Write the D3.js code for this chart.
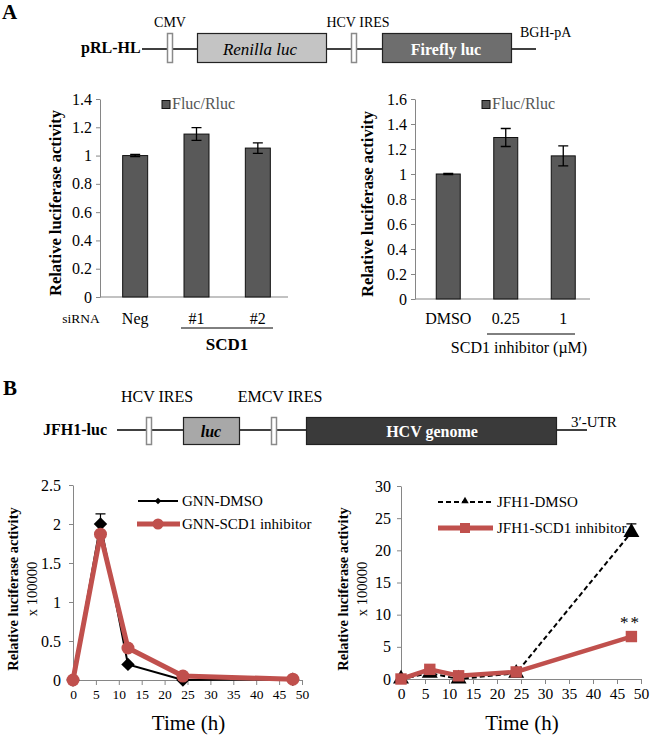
<!DOCTYPE html>
<html><head><meta charset="utf-8">
<script src="https://cdn.jsdelivr.net/npm/d3@7"></script>
<style>body{margin:0;background:#fff}svg{display:block}svg text{font-family:"Liberation Serif","Times New Roman",serif !important}</style>
</head><body><svg id="c" width="650" height="737"></svg>
<script>
// ---------- DATA ----------
const siRNACategories = ["Neg", "#1", "#2"];
const siRNAValues = [1.0, 1.152, 1.053];
const siRNAErrors = [0.008, 0.045, 0.037];
const siRNATicks = [0, 0.2, 0.4, 0.6, 0.8, 1, 1.2, 1.4];

const inhibitorCategories = ["DMSO", "0.25", "1"];
const inhibitorValues = [1.0, 1.292, 1.145];
const inhibitorErrors = [0.004, 0.072, 0.08];
const inhibitorTicks = [0, 0.2, 0.4, 0.6, 0.8, 1, 1.2, 1.4, 1.6];

const timePoints = [0, 6, 12, 24, 48];
const timeTicks = [0, 5, 10, 15, 20, 25, 30, 35, 40, 45, 50];
const gnnDMSO = [0, 2.0, 0.2, 0.0, 0.01];
const gnnDMSOErr = [0, 0.13, 0, 0, 0];
const gnnSCD1 = [0, 1.87, 0.41, 0.05, 0.01];
const gnnTicks = [0, 0.5, 1, 1.5, 2, 2.5];
const jfh1DMSO = [0, 0.9, 0, 0.9, 22.8];
const jfh1DMSOErr = [0, 0, 0, 0, 1.3];
const jfh1SCD1 = [0, 1.5, 0.5, 1.1, 6.6];
const jfhTicks = [0, 5, 10, 15, 20, 25, 30];

const SERIF = '"Liberation Serif","Times New Roman",serif';
const AXIS = "#868686", BAR = "#595959", RED = "#c0504d";
const svg = d3.select("#c");
svg.append("rect").attr("width", 650).attr("height", 737).attr("fill", "#fff");

function txt(x, y, s, o = {}) {
  const t = svg.append("text").attr("x", x).attr("y", y).text(s)
    .attr("font-family", SERIF).attr("font-size", o.size || 15)
    .attr("fill", o.fill || "#000").attr("text-anchor", o.anchor || "start")
    .attr("dominant-baseline", o.base || "auto");
  if (o.bold) t.attr("font-weight", "bold");
  if (o.italic) t.attr("font-style", "italic");
  if (o.rotate) t.attr("transform", `rotate(-90,${x},${y})`);
  if (o.ls) t.attr("letter-spacing", o.ls);
  return t;
}
function styleAxis(g, size) {
  g.attr("font-family", SERIF);
  g.select(".domain").attr("stroke", AXIS).attr("stroke-width", 1);
  g.selectAll(".tick line").attr("stroke", AXIS);
  g.selectAll("text").attr("font-family", SERIF).attr("font-size", size).attr("fill", "#000");
}

// ---------- DIAGRAMS ----------
function box(x, y, w, h, fill, stroke, sw) {
  svg.append("rect").attr("x", x).attr("y", y).attr("width", w).attr("height", h)
    .attr("fill", fill).attr("stroke", stroke).attr("stroke-width", sw);
}
function hline(x1, x2, y, c = "#000", w = 1.5) {
  svg.append("line").attr("x1", x1).attr("x2", x2).attr("y1", y).attr("y2", y)
    .attr("stroke", c).attr("stroke-width", w);
}
// A diagram
txt(2, 19, "A", { size: 21, bold: true });
txt(81, 53, "pRL-HL", { size: 16, bold: true });
hline(142, 536, 49);
box(167.5, 33.5, 5, 29, "#fff", "#8a8a8a", 1.5);
box(197.5, 33.5, 129, 29, "#c4c4c4", "#222", 1.2);
box(351.5, 33.5, 5, 29, "#fff", "#8a8a8a", 1.5);
box(382.5, 33.5, 129, 29, "#6e6e6e", "#222", 1.2);
txt(170, 27, "CMV", { size: 14, anchor: "middle" });
txt(358, 27, "HCV IRES", { size: 14, anchor: "middle" });
txt(520, 37, "BGH-pA", { size: 14 });
txt(260, 49, "Renilla luc", { size: 17, italic: true, anchor: "middle", base: "central" });
txt(446, 49, "Firefly luc", { size: 16, bold: true, anchor: "middle", base: "central", fill: "#fff" });

// B diagram
txt(3, 395, "B", { size: 21, bold: true });
txt(43, 435, "JFH1-luc", { size: 16, bold: true });
hline(117, 587, 430);
box(146.5, 417.5, 5, 27, "#fff", "#8a8a8a", 1.5);
box(183.5, 417.5, 56, 27, "#a8a8a8", "#222", 1.2);
box(271.5, 417.5, 5, 27, "#fff", "#8a8a8a", 1.5);
box(306.5, 417.5, 250, 27, "#3a3a3a", "#222", 1.2);
txt(157, 402, "HCV IRES", { size: 16, anchor: "middle" });
txt(280, 402, "EMCV IRES", { size: 16, anchor: "middle" });
txt(571, 427, "3\u2032-UTR", { size: 15 });
txt(211, 431, "luc", { size: 16, italic: true, bold: true, anchor: "middle", base: "central" });
txt(432, 431, "HCV genome", { size: 16, bold: true, anchor: "middle", base: "central", fill: "#fff" });

// ---------- BAR CHARTS ----------
function barChart(cfg) {
  const x = d3.scalePoint().domain(cfg.cats).range(cfg.xr).padding(0.5);
  const y = d3.scaleLinear().domain([0, cfg.ymax]).range(cfg.yr);
  const g = svg.append("g");
  const ax = g.append("g").attr("transform", `translate(${cfg.axisX},0)`)
    .call(d3.axisLeft(y).tickValues(cfg.ticks).tickSize(4).tickSizeOuter(0).tickPadding(4).tickFormat(d => d));
  styleAxis(ax, 16);
  g.append("line").attr("x1", cfg.axisX).attr("x2", cfg.xEnd).attr("y1", y(0)).attr("y2", y(0))
    .attr("stroke", AXIS).attr("stroke-width", 1.2);
  const bw = cfg.bw;
  g.selectAll(".bar").data(cfg.vals).join("rect")
    .attr("x", (d, i) => x(cfg.cats[i]) - bw / 2 + 0.5).attr("width", bw)
    .attr("y", d => y(d)).attr("height", d => y(0) - y(d))
    .attr("fill", BAR).attr("stroke", "#111").attr("stroke-width", 1);
  cfg.vals.forEach((v, i) => {
    const cx = x(cfg.cats[i]) + 0.5, e = cfg.errs[i];
    const p = d3.path();
    p.moveTo(cx, y(v - e)); p.lineTo(cx, y(v + e));
    p.moveTo(cx - 5, y(v + e)); p.lineTo(cx + 5, y(v + e));
    p.moveTo(cx - 5, y(v - e)); p.lineTo(cx + 5, y(v - e));
    g.append("path").attr("d", p.toString()).attr("stroke", "#000").attr("stroke-width", 1.3).attr("fill", "none");
    txt(cx, 318, cfg.cats[i], { size: 16, anchor: "middle", base: "central" });
  });
  // legend
  g.append("rect").attr("x", cfg.legX).attr("y", 100.5).attr("width", 8).attr("height", 8)
    .attr("fill", BAR).attr("stroke", "#111");
  txt(cfg.legX + 10, 109, "Fluc/Rluc", { size: 16, fill: "#555" });
  txt(cfg.ylabX, cfg.ylabY, "Relative luciferase activity", { size: 16.5, bold: true, anchor: "middle", base: "central", rotate: true });
  return x;
}
barChart({ cats: siRNACategories, vals: siRNAValues, errs: siRNAErrors, ticks: siRNATicks,
  ymax: 1.4, xr: [104, 288], yr: [297, 99], axisX: 100, xEnd: 288, bw: 25, legX: 162, ylabX: 55, ylabY: 203 });
txt(81, 318, "siRNA", { size: 13.5, anchor: "middle", base: "central" });
hline(181, 273, 328, "#000", 1);
txt(227, 344, "SCD1", { size: 17, bold: true, anchor: "middle", base: "central" });

barChart({ cats: inhibitorCategories, vals: inhibitorValues, errs: inhibitorErrors, ticks: inhibitorTicks,
  ymax: 1.6, xr: [419, 591.5], yr: [299, 99], axisX: 415, xEnd: 590, bw: 24, legX: 482, ylabX: 367, ylabY: 204 });
hline(487, 575, 334, "#000", 1);
txt(519, 347, "SCD1 inhibitor (\u00b5M)", { size: 16, anchor: "middle", base: "central" });

// ---------- LINE CHARTS ----------
function lineAxes(cfg) {
  const x = d3.scaleLinear().domain([0, 50]).range(cfg.xr);
  const y = d3.scaleLinear().domain([0, cfg.ymax]).range(cfg.yr);
  const ay = svg.append("g").attr("transform", `translate(${x(0)},0)`)
    .call(d3.axisLeft(y).tickValues(cfg.yticks).tickSize(4).tickSizeOuter(0).tickPadding(cfg.ypad).tickFormat(d => d));
  styleAxis(ay, 16);
  const axx = svg.append("g").attr("transform", `translate(0,${y(0)})`)
    .call(d3.axisBottom(x).tickValues(timeTicks).tickSize(5).tickSizeOuter(0).tickPadding(4).tickFormat(d => d));
  styleAxis(axx, cfg.xsize);
  txt(cfg.ylabX, 589, "Relative luciferase activity", { size: 14.5, bold: true, anchor: "middle", base: "central", rotate: true });
  txt(cfg.ylabX + 19, 589, "x 100000", { size: 14.5, anchor: "middle", base: "central", rotate: true });
  txt((cfg.xr[0] + cfg.xr[1]) / 2 + 1, 723, "Time (h)", { size: 21, anchor: "middle", base: "central" });
  return { x, y };
}
const diamond = d3.symbol().type(d3.symbolSquare);
// Left B
{
  const { x, y } = lineAxes({ xr: [73, 302], yr: [680, 485], ymax: 2.5, yticks: gnnTicks, ypad: 8, xsize: 13.5, ylabX: 13 });
  const line = d3.line().x((d, i) => x(timePoints[i])).y(d => y(d));
  gnnDMSO.forEach((v, i) => {
    if (gnnDMSOErr[i] > 0) {
      const cx = x(timePoints[i]);
      svg.append("path").attr("d", `M${cx},${y(v)}V${y(v + gnnDMSOErr[i])}M${cx - 5},${y(v + gnnDMSOErr[i])}H${cx + 5}`)
        .attr("stroke", "#000").attr("stroke-width", 1.2).attr("fill", "none");
    }
  });
  svg.append("path").datum(gnnDMSO).attr("d", line).attr("fill", "none").attr("stroke", "#000").attr("stroke-width", 2);
  svg.selectAll(".dm").data(gnnDMSO).join("path")
    .attr("d", diamond.size(90)).attr("transform", (d, i) => `translate(${x(timePoints[i])},${y(d)}) rotate(45)`).attr("fill", "#000");
  svg.append("path").datum(gnnSCD1).attr("d", line).attr("fill", "none").attr("stroke", RED).attr("stroke-width", 5).attr("stroke-linejoin", "round");
  svg.selectAll(".rc").data(gnnSCD1).join("circle")
    .attr("cx", (d, i) => x(timePoints[i])).attr("cy", d => y(d)).attr("r", 6.5).attr("fill", RED);
  hline(138, 178, 501, "#000", 2);
  svg.append("path").attr("d", diamond.size(22)).attr("transform", "translate(158,501) rotate(45)").attr("fill", "#000");
  txt(182, 501, "GNN-DMSO", { size: 15, base: "central" });
  hline(137, 180, 524, RED, 5);
  svg.append("circle").attr("cx", 158).attr("cy", 524).attr("r", 5.5).attr("fill", RED);
  txt(182, 524, "GNN-SCD1 inhibitor", { size: 15, base: "central" });
}
// Right B
{
  const { x, y } = lineAxes({ xr: [401, 641], yr: [679, 486], ymax: 30, yticks: jfhTicks, ypad: 6, xsize: 15.5, ylabX: 343 });
  const line = d3.line().x((d, i) => x(timePoints[i])).y(d => y(d));
  jfh1DMSO.forEach((v, i) => {
    if (jfh1DMSOErr[i] > 0) {
      const cx = x(timePoints[i]);
      svg.append("path").attr("d", `M${cx},${y(v)}V${y(v + jfh1DMSOErr[i])}M${cx - 5},${y(v + jfh1DMSOErr[i])}H${cx + 5}`)
        .attr("stroke", "#000").attr("stroke-width", 1.2).attr("fill", "none");
    }
  });
  svg.append("path").datum(jfh1DMSO).attr("d", line).attr("fill", "none").attr("stroke", "#000")
    .attr("stroke-width", 2).attr("stroke-dasharray", "5,3");
  const tri = d3.symbol().type(d3.symbolTriangle);
  svg.selectAll(".tr").data(jfh1DMSO).join("path")
    .attr("d", tri.size(110)).attr("transform", (d, i) => `translate(${x(timePoints[i])},${y(d)})`).attr("fill", "#000");
  svg.append("path").datum(jfh1SCD1).attr("d", line).attr("fill", "none").attr("stroke", RED).attr("stroke-width", 4.5).attr("stroke-linejoin", "round");
  svg.selectAll(".sq").data(jfh1SCD1).join("path")
    .attr("d", d3.symbol().type(d3.symbolSquare).size(130)).attr("transform", (d, i) => `translate(${x(timePoints[i])},${y(d)})`).attr("fill", RED);
  txt(x(48) - 1, y(jfh1SCD1[4]) - 9, "**", { size: 17, anchor: "middle", ls: 2 });
  svg.append("line").attr("x1", 438).attr("x2", 493).attr("y1", 502).attr("y2", 502)
    .attr("stroke", "#000").attr("stroke-width", 2).attr("stroke-dasharray", "5,3");
  svg.append("path").attr("d", tri.size(24)).attr("transform", "translate(465,501)").attr("fill", "#000");
  txt(497, 502, "JFH1-DMSO", { size: 15, base: "central" });
  hline(438, 493, 528, RED, 5);
  svg.append("path").attr("d", d3.symbol().type(d3.symbolSquare).size(100)).attr("transform", "translate(465,528)").attr("fill", RED);
  txt(497, 528, "JFH1-SCD1 inhibitor", { size: 15, base: "central" });
}
</script></body></html>
